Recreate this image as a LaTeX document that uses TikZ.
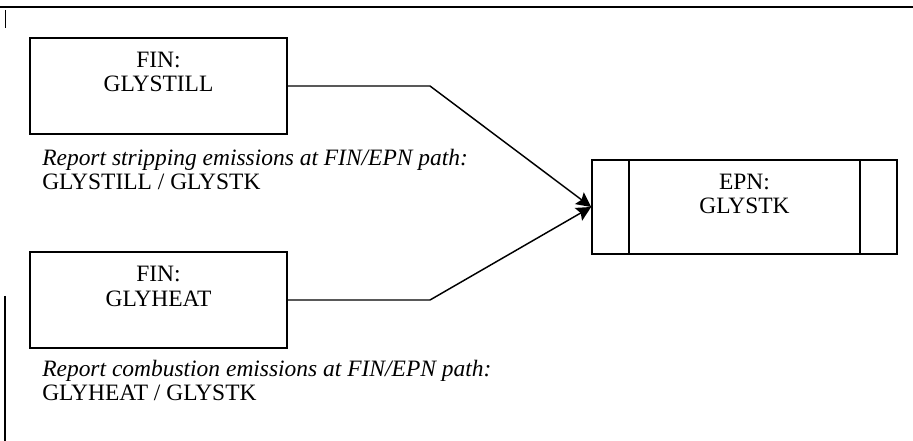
\documentclass[tikz,border=0pt]{standalone}
\usepackage{fontspec}
\setmainfont{Liberation Serif}
\usepackage{tikz}
\usetikzlibrary{arrows.meta}

\tikzset{
  finbox/.style={draw, line width=1.3pt, minimum width=257*0.75pt, minimum height=96*0.75pt, inner sep=0pt},
  epnbox/.style={draw, line width=1.3pt, minimum width=305*0.75pt, minimum height=94*0.75pt, inner sep=0pt},
  boxtext/.style={anchor=base, align=center, inner sep=0pt, font=\fontsize{17.6}{18}\selectfont},
  link/.style={line width=1.1pt, -{Stealth[length=11pt,width=11pt,inset=2pt]}},
  note/.style={anchor=base west, inner sep=0pt, align=left, font=\fontsize{17.6}{18}\selectfont}
}

\begin{document}
\begin{tikzpicture}[x=0.75pt,y=0.75pt,yscale=-1]
\useasboundingbox (0,0) rectangle (913,441);

%Straight Lines: frame
\draw [line width=1.3pt] (0,7) -- (913,7) ;
\draw [line width=0.6pt] (5,10) -- (5,28) ;
\draw [line width=1pt] (5,296) -- (5,441) ;

%Shape: Rectangle
\node [finbox] (still) at (158.5,86) {};
\node [boxtext] (stilltext) at (158.5,92) {FIN:\\GLYSTILL};
%Shape: Rectangle
\node [finbox] (heat) at (158.5,300) {};
\node [boxtext] (heattext) at (158.5,306) {FIN:\\GLYHEAT};
%Shape: Rectangle
\node [epnbox] (epn) at (744.5,207) {};
\node [boxtext] (epntext) at (744.5,214) {EPN:\\GLYSTK};
\draw [line width=1.3pt] ([xshift=38*0.75pt]epn.north west) -- ([xshift=38*0.75pt]epn.south west) ;
\draw [line width=1.3pt] ([xshift=-38*0.75pt]epn.north east) -- ([xshift=-38*0.75pt]epn.south east) ;

%Straight Lines
\coordinate (bend1) at (430,86) ;
\coordinate (bend2) at (430,300) ;
\draw [link] (still.east) -- (bend1) -- (epn.west) ;
\draw [link] (heat.east) -- (bend2) -- (epn.west) ;

% Text Node
\node [note] (notestill) at (42,190) {\textit{Report stripping emissions at FIN/EPN path:}\\GLYSTILL / GLYSTK};
% Text Node
\node [note] (noteheat) at (42,400) {\textit{Report combustion emissions at FIN/EPN path:}\\GLYHEAT / GLYSTK};
\end{tikzpicture}
\end{document}
